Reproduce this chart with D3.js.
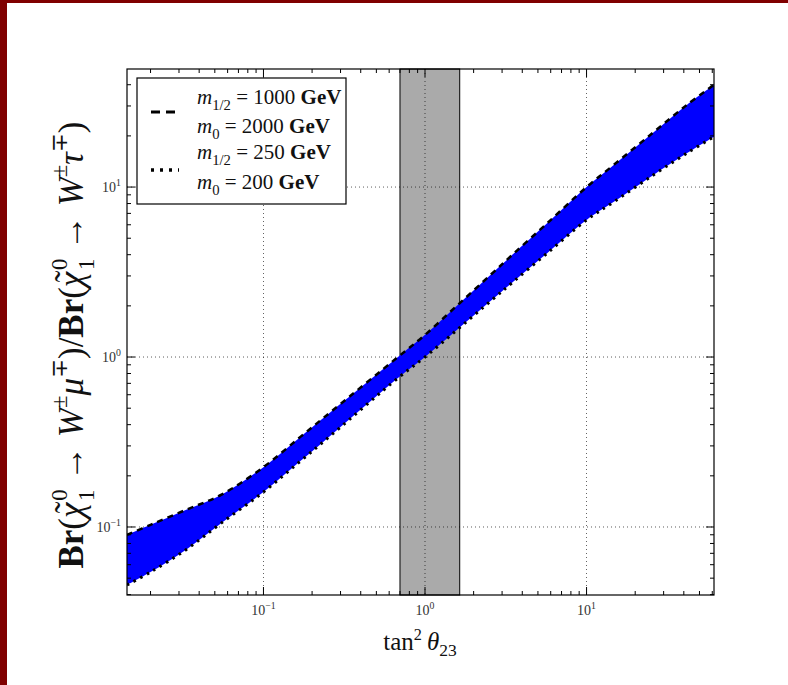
<!DOCTYPE html>
<html><head><meta charset="utf-8">
<script src="https://cdn.jsdelivr.net/npm/d3@7"></script>
<style>body{margin:0;background:#fff}svg{display:block}</style>
</head><body>
<svg id="c" width="788" height="685"></svg>
<script>
// ---- data ----
const tanSq      = [0.0143, 0.02, 0.033, 0.055, 0.1, 0.17, 0.27, 0.68, 1, 1.6, 2.6, 3.5, 5.7, 10, 14.6, 25.8, 41.9, 61.5];
const ratioHeavy = [0.0899, 0.103, 0.126, 0.155, 0.225, 0.34, 0.488, 1.0, 1.35, 2.03, 3.10, 4.02, 6.12, 10.0, 13.4, 20.9, 30.5, 40.0]; // m1/2=1000, m0=2000 (dashed)
const ratioLight = [0.0456, 0.0543, 0.0733, 0.1057, 0.1607, 0.245, 0.355, 0.752, 1.0, 1.46, 2.17, 2.76, 4.08, 6.40, 8.13, 11.75, 15.85, 19.8]; // m1/2=250, m0=200 (dotted)
const bandRange  = [0.70, 1.64];
const xDomain    = [0.0143, 61.5];
const yDomain    = [0.0398, 49.5];
const majorTicks = [0.1, 1, 10];
const tickExps   = ["\u22121", "0", "1"];
const legendRows = [
  {style: "dashed", l1: ["1/2", "1000"], l2: ["0", "2000"]},
  {style: "dotted", l1: ["1/2", "250"],  l2: ["0", "200"]}
];

// ---- layout ----
const svg = d3.select("#c");
const L = 127, R = 714, T = 69, B = 595;
const serif = "'Liberation Serif','DejaVu Serif',serif";

svg.append("rect").attr("x",0).attr("y",0).attr("width",788).attr("height",3).attr("fill","#800000");
svg.append("rect").attr("x",0).attr("y",0).attr("width",7).attr("height",685).attr("fill","#800000");

const x = d3.scaleLog().domain(xDomain).range([L, R]);
const y = d3.scaleLog().domain(yDomain).range([B, T]);

const g = svg.append("g");
g.append("defs").append("clipPath").attr("id","clip")
  .append("rect").attr("x",L).attr("y",T).attr("width",R-L).attr("height",B-T);

// gray band
g.append("rect").attr("x", x(bandRange[0])).attr("y", T)
  .attr("width", x(bandRange[1]) - x(bandRange[0])).attr("height", B - T)
  .attr("fill", "#aaaaaa").attr("stroke", "#000").attr("stroke-width", 1);

// grid
majorTicks.forEach(v => {
  g.append("line").attr("x1", x(v)).attr("x2", x(v)).attr("y1", T).attr("y2", B)
    .attr("stroke", "#000").attr("stroke-width", 0.8).attr("stroke-dasharray", "1,3").attr("opacity",0.8);
  g.append("line").attr("x1", L).attr("x2", R).attr("y1", y(v)).attr("y2", y(v))
    .attr("stroke", "#000").attr("stroke-width", 0.8).attr("stroke-dasharray", "1,3").attr("opacity",0.8);
});

// band data
const pts = tanSq.map((t, i) => ({t, hi: ratioHeavy[i], lo: ratioLight[i]}));
const curve = d3.curveCatmullRom.alpha(0.5);
const area = d3.area().x(d => x(d.t)).y0(d => y(d.lo)).y1(d => y(d.hi)).curve(curve);
const cg = g.append("g").attr("clip-path", "url(#clip)");
cg.append("path").datum(pts).attr("d", area).attr("fill", "#0000ff");
const lineHi = d3.line().x(d => x(d.t)).y(d => y(d.hi)).curve(curve);
const lineLo = d3.line().x(d => x(d.t)).y(d => y(d.lo)).curve(curve);
cg.append("path").datum(pts).attr("d", lineHi).attr("fill","none").attr("stroke","#000")
  .attr("stroke-width", 2.5).attr("stroke-dasharray", "6,5");
cg.append("path").datum(pts).attr("d", lineLo).attr("fill","none").attr("stroke","#000")
  .attr("stroke-width", 3).attr("stroke-dasharray", "2.5,5");

// frame
g.append("rect").attr("x", L).attr("y", T).attr("width", R-L).attr("height", B-T)
  .attr("fill","none").attr("stroke","#000").attr("stroke-width",1.2);

// ticks (inside, all four sides)
function minorList(dom) {
  const out = [];
  for (let e = -3; e <= 3; e++) for (let m = 1; m <= 9; m++) {
    const v = m * Math.pow(10, e);
    if (v >= dom[0] && v <= dom[1]) out.push({v, major: m === 1});
  }
  return out;
}
minorList(xDomain).forEach(d => {
  const len = d.major ? 8 : 4;
  g.append("line").attr("x1", x(d.v)).attr("x2", x(d.v)).attr("y1", B).attr("y2", B - len).attr("stroke","#000");
  g.append("line").attr("x1", x(d.v)).attr("x2", x(d.v)).attr("y1", T).attr("y2", T + len).attr("stroke","#000");
});
minorList(yDomain).forEach(d => {
  const len = d.major ? 8 : 4;
  g.append("line").attr("y1", y(d.v)).attr("y2", y(d.v)).attr("x1", L).attr("x2", L + len).attr("stroke","#000");
  g.append("line").attr("y1", y(d.v)).attr("y2", y(d.v)).attr("x1", R).attr("x2", R - len).attr("stroke","#000");
});

// rich text helper
function rich(sel, parts, base) {
  sel.selectAll("tspan").remove();
  let off = 0;
  parts.forEach(p => {
    const ts = sel.append("tspan").text(p.t);
    ts.attr("font-size", base * (p.s || 1));
    const target = (p.o || 0) * base;
    const dy = target - off;
    if (dy) ts.attr("dy", dy);
    off = target;
    if (p.dx) ts.attr("dx", p.dx * base);
    if (p.b) ts.attr("font-weight", "bold");
    if (p.i) ts.attr("font-style", "italic");
  });
}

// tick labels
majorTicks.forEach((v, i) => {
  const tx = svg.append("text").attr("x", x(v)).attr("y", 615).attr("text-anchor","middle")
    .attr("font-family", serif).attr("fill","#333");
  rich(tx, [{t:"10"}, {t: tickExps[i], s:0.7, o:-0.45}], 14);
  const ty = svg.append("text").attr("x", 121).attr("y", y(v) + 5).attr("text-anchor","end")
    .attr("font-family", serif).attr("fill","#333");
  rich(ty, [{t:"10"}, {t: tickExps[i], s:0.7, o:-0.45}], 14);
});

// axis labels
const xl = svg.append("text").attr("x", 420).attr("y", 650).attr("text-anchor","middle").attr("font-family", serif).attr("fill","#111");
rich(xl, [{t:"tan"}, {t:"2", s:0.65, o:-0.4}, {t:"\u2009"}, {t:"\u03b8", i:true}, {t:"23", s:0.7, o:0.25}], 25);

const yl = svg.append("text").attr("transform", "translate(83,345) rotate(-90)")
  .attr("text-anchor","middle").attr("font-family", serif).attr("fill","#111");
const chi = [{t:"\u03c7", i:true}, {t:"\u02dc", o:-0.08, dx:-0.3}, {t:"0", s:0.65, o:-0.45, dx:0.02}, {t:"1", s:0.65, o:0.3, dx:-0.33}];
const ylParts = [
  {t:"Br", b:true}, {t:"("}, ...chi, {t:" \u2192 "}, {t:"W", i:true}, {t:"\u00b1", s:0.65, o:-0.45},
  {t:"\u03bc", i:true}, {t:"\u2213", s:0.65, o:-0.45}, {t:")/"},
  {t:"Br", b:true}, {t:"("}, ...chi, {t:" \u2192 "}, {t:"W", i:true}, {t:"\u00b1", s:0.65, o:-0.45},
  {t:"\u03c4", i:true}, {t:"\u2213", s:0.65, o:-0.45}, {t:")"}
];
rich(yl, ylParts, 26);
const w0 = yl.node().getComputedTextLength();
rich(yl, ylParts, 26 * 490 / w0);

// legend
const lg = svg.append("g");
lg.append("rect").attr("x",137).attr("y",78).attr("width",209).attr("height",126)
  .attr("fill","#fff").attr("stroke","#000").attr("stroke-width",1.2);
legendRows.forEach((r, i) => {
  const cy = 112 + i * 58;
  lg.append("line").attr("x1",151).attr("x2",179).attr("y1",cy).attr("y2",cy).attr("stroke","#000")
    .attr("stroke-width", r.style === "dashed" ? 3 : 3.5)
    .attr("stroke-dasharray", r.style === "dashed" ? "9,6" : "3,6");
  const t1 = lg.append("text").attr("x",197).attr("y",cy - 8 + (i ? -3 : 0)).attr("font-family",serif).attr("fill","#111");
  rich(t1, [{t:"m", i:true}, {t:r.l1[0], s:0.7, o:0.3}, {t:" = " + r.l1[1] + " "}, {t:"GeV", b:true}], 21);
  const t2 = lg.append("text").attr("x",197).attr("y",cy + 21 + (i ? -2 : 0)).attr("font-family",serif).attr("fill","#111");
  rich(t2, [{t:"m", i:true}, {t:r.l2[0], s:0.7, o:0.3}, {t:" = " + r.l2[1] + " "}, {t:"GeV", b:true}], 21);
});
</script>
</body></html>
